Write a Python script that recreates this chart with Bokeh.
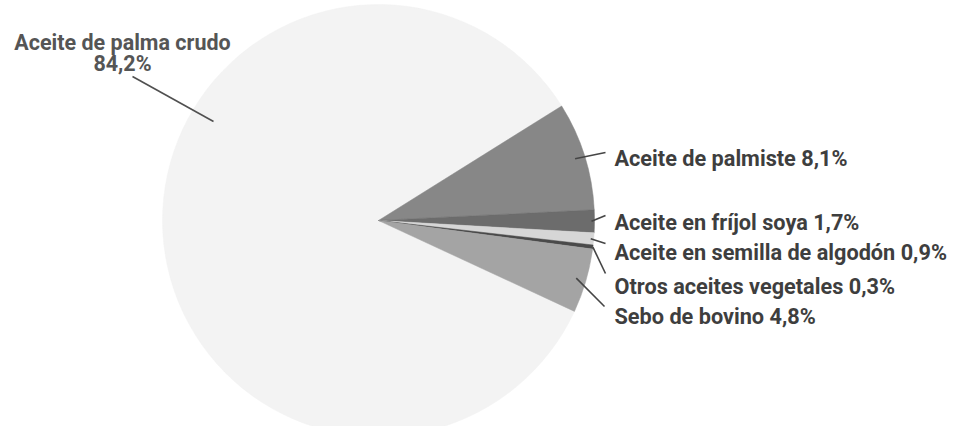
import math
from bokeh.plotting import figure
from bokeh.models import Range1d, ColumnDataSource
from bokeh.core.properties import value
from bokeh.embed import file_html
from bokeh.resources import INLINE

# ---- data ----
categories = ["Aceite de palmiste", "Aceite en fríjol soya", "Aceite en semilla de algodón",
              "Otros aceites vegetales", "Sebo de bovino", "Aceite de palma crudo"]
shares = [8.1, 1.7, 0.9, 0.3, 4.8, 84.2]
pct_labels = ["8,1%", "1,7%", "0,9%", "0,3%", "4,8%", "84,2%"]
colors = ["#878787", "#6c6c6c", "#d6d6d6", "#4a4a4a", "#a4a4a4", "#f3f3f3"]

W, H = 957, 426
FONT = "Roboto"

def sy(y):  # screen y (window px) -> data y
    return H - y

p = figure(width=W, height=H, output_backend="svg", toolbar_location=None,
           x_range=Range1d(0, W), y_range=Range1d(0, H),
           min_border=0, outline_line_color=None)
p.axis.visible = False
p.grid.visible = False
p.background_fill_color = "white"
p.border_fill_color = "white"

cx, cy, R = 378, sy(220), 216
top_angle = 32.0  # degrees, upper edge of the palm-kernel slice

starts, ends, mids = [], [], []
a = top_angle
for s in shares[:-1]:
    b = a - s / 100 * 360
    starts.append(b); ends.append(a); mids.append((a + b) / 2)
    a = b
starts.append(top_angle); ends.append(a + 360); mids.append(None)

order = [5, 0, 1, 2, 3, 4]
src = ColumnDataSource(dict(
    start=[math.radians(starts[i]) for i in order],
    end=[math.radians(ends[i]) for i in order],
    color=[colors[i] for i in order]))
p.wedge(x=cx, y=cy, radius=R, start_angle="start", end_angle="end",
        fill_color="color", line_color="color", line_width=0.5, source=src)

# right-hand labels
label_x = 614
baselines = [158, 222, 252, 286, 316]
line_end = [(605, 152), (605, 215), (605, 243), (605, 273), (604, 306)]
inner_r = [206, 213, 213, 216, 206]
lx0, ly0, lx1, ly1 = [], [], [], []
for i in range(5):
    ang = math.radians(mids[i])
    lx0.append(cx + inner_r[i] * math.cos(ang))
    ly0.append(cy + inner_r[i] * math.sin(ang))
    lx1.append(line_end[i][0])
    ly1.append(sy(line_end[i][1]))
p.segment(x0=lx0, y0=ly0, x1=lx1, y1=ly1, line_color="#454545", line_width=1.6)

texts = [f"{categories[i]} {pct_labels[i]}" for i in range(5)]
p.text(x=[label_x] * 5, y=[sy(b) for b in baselines], text=texts,
       text_font=value(FONT), text_font_style="bold", text_font_size="21.7px",
       text_color="#3e3e3e", text_align="left", text_baseline="alphabetic")

p.text(x=[122, 122], y=[sy(42), sy(63)], text=[categories[5], pct_labels[5]],
       text_font=value(FONT), text_font_style="bold", text_font_size="21.5px",
       text_color="#555555", text_align="center", text_baseline="alphabetic")
p.segment(x0=[132], y0=[sy(76)], x1=[213], y1=[sy(121)],
          line_color="#505050", line_width=1.6)

open("out.html", "w").write(file_html(p, INLINE))
